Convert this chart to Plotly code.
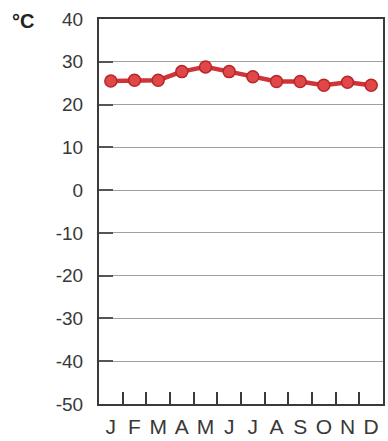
import plotly.graph_objects as go

months = ["J", "F", "M", "A", "M", "J", "J", "A", "S", "O", "N", "D"]
month_idx = list(range(1, 13))
temps = [25.5, 25.7, 25.7, 27.7, 28.8, 27.7, 26.5, 25.4, 25.4, 24.5, 25.2, 24.5]
y_ticks = [40, 30, 20, 10, 0, -10, -20, -30, -40, -50]
y_labels = [str(v) for v in y_ticks]

fig = go.Figure()
fig.add_trace(go.Scatter(
    x=month_idx, y=temps, mode="lines+markers",
    line=dict(color="#cf3438", width=4.5),
    marker=dict(size=12, color="#e04848", line=dict(color="#b8262b", width=1.5)),
    showlegend=False, hoverinfo="skip", cliponaxis=False,
))

font = dict(family="Liberation Sans, Arial, sans-serif", color="#333333")

fig.update_layout(
    width=388, height=441,
    margin=dict(l=99, r=3, t=19, b=32),
    paper_bgcolor="white", plot_bgcolor="white",
    font=font,
    xaxis=dict(
        range=[0.5, 12.5], tickvals=month_idx, ticktext=months,
        ticks="", showgrid=False, zeroline=False,
        showline=True, linecolor="#3a3a3a", linewidth=2, mirror=True,
        tickfont=dict(size=21, color="#383838"),
        ticklabelstandoff=3,
        minor=dict(tickvals=[i + 0.5 for i in range(1, 12)], ticks="inside",
                   ticklen=12, tickwidth=1.5, tickcolor="#3a3a3a", showgrid=False),
    ),
    yaxis=dict(
        range=[-50, 40], tickvals=y_ticks, ticktext=y_labels,
        ticks="inside", ticklen=14, tickwidth=1.5, tickcolor="#555555",
        showgrid=True, gridcolor="#a0a0a0", gridwidth=1, zeroline=False,
        showline=True, linecolor="#3a3a3a", linewidth=2, mirror=True,
        tickfont=dict(size=19, color="#383838"),
        ticklabelstandoff=10,
    ),
    annotations=[dict(text="<b>°C</b>", xref="paper", yref="paper",
                      x=-0.266, y=0.995, xanchor="center", yanchor="middle",
                      showarrow=False, font=dict(size=20, color="#222222"))],
)

fig.write_html("out.html", config={"displayModeBar": False},
               post_script="document.body.style.margin='0';document.body.style.overflow='hidden';")
